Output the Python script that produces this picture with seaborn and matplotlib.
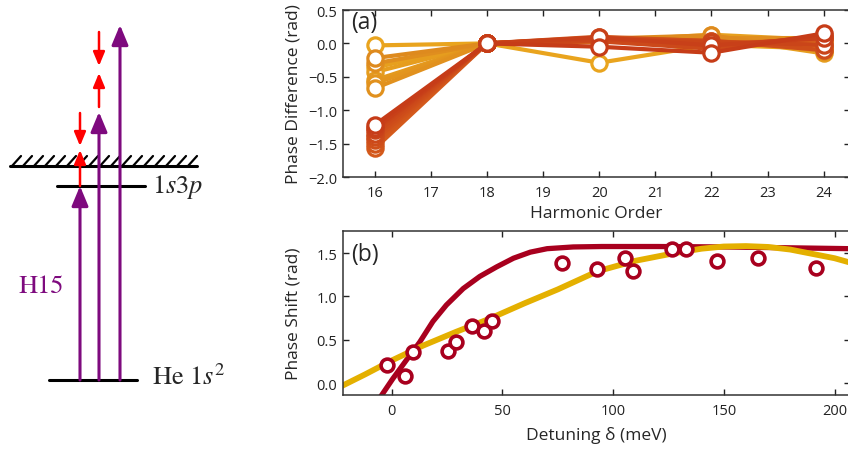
import numpy as np
import pandas as pd
import matplotlib
matplotlib.use("Agg")
import matplotlib.pyplot as plt
import seaborn as sns

# ---- data ----
harmonic_orders = [16, 18, 20, 22, 24]

# phase difference vs harmonic order, referenced to H18 (orange group)
phase_upper = [
    [-0.03, 0, -0.29, -0.02, -0.08],
    [-0.36, 0, 0.03, 0.13, 0.05],
    [-0.43, 0, 0.06, 0.10, -0.15],
    [-0.55, 0, 0.02, 0.05, -0.10],
    [-0.60, 0, 0.08, 0.03, 0.02],
    [-0.67, 0, 0.04, 0.00, -0.05],
    [-0.30, 0, 0.05, 0.08, 0.08],
    [-0.22, 0, 0.07, 0.12, -0.12],
]
# red group
phase_lower = [
    [-1.57, 0, 0.07, 0.00, 0.05],
    [-1.50, 0, 0.10, 0.03, -0.03],
    [-1.45, 0, 0.05, -0.05, 0.10],
    [-1.40, 0, 0.08, 0.04, -0.10],
    [-1.35, 0, 0.03, -0.08, 0.12],
    [-1.30, 0, 0.06, 0.02, -0.02],
    [-1.27, 0, 0.09, -0.03, 0.08],
    [-1.22, 0, -0.05, -0.14, 0.15],
]

# phase shift vs detuning
detuning_meas = [-2.3, 6.2, 9.8, 25.5, 29.2, 36.1, 41.7, 45.5, 77.0, 92.6,
                 105.5, 109.2, 126.6, 133.1, 147.1, 165.5, 191.6]
shift_meas = [0.21, 0.08, 0.36, 0.37, 0.47, 0.66, 0.60, 0.72, 1.38, 1.31,
              1.44, 1.29, 1.55, 1.55, 1.41, 1.44, 1.33]

model_red_x = [-6, -4.8, 0.5, 6.5, 12.6, 18.6, 24.7, 32.3, 39.8, 47.4, 55, 62.6,
               70.2, 82, 95, 120, 150, 180, 207]
model_red_y = [-0.19, -0.15, 0.05, 0.26, 0.47, 0.71, 0.90, 1.09, 1.23, 1.34, 1.44,
               1.51, 1.55, 1.57, 1.575, 1.575, 1.57, 1.56, 1.55]

model_yel_x = [-23, -12, 0, 14, 29, 44, 60, 75, 93, 110, 128, 140, 150, 160, 170,
               180, 190, 200, 207]
model_yel_y = [-0.04, 0.10, 0.26, 0.43, 0.59, 0.74, 0.92, 1.08, 1.29, 1.41, 1.50,
               1.55, 1.575, 1.58, 1.57, 1.54, 1.49, 1.44, 1.39]

# energy level sketch (diagram units, top = 0)
ground_y = 381
level_3p_y = 187
threshold_y = 167
harmonic_x = [80, 99, 120]
harmonic_top = [187, 113, 26]
ir_up = [(80, 187, 151), (99, 108, 74)]
ir_down = [(80, 114, 147), (99, 33, 67)]

# ---- style ----
sns.set_style("ticks")
plt.rcParams['font.family'] = ['Open Sans', 'DejaVu Sans']
plt.rcParams['mathtext.fontset'] = 'stix'

fig = plt.figure(figsize=(8.48, 4.52), dpi=100)

# ---- energy diagram ----
axd = fig.add_axes([0, 0, 270 / 848, 1])
axd.set_xlim(0, 270)
axd.set_ylim(452, 0)
axd.axis('off')

axd.plot([49, 137], [ground_y, ground_y], color='black', lw=2.2)
axd.plot([57, 145], [level_3p_y, level_3p_y], color='black', lw=2.2)
axd.plot([10, 197], [threshold_y, threshold_y], color='black', lw=2.2)
for hx in np.arange(12, 192, 11):
    axd.plot([hx, hx + 9], [threshold_y, threshold_y - 10], color='black', lw=1.6)

purple = '#7E0A7E'
for x, top in zip(harmonic_x, harmonic_top):
    axd.annotate('', xy=(x, top), xytext=(x, ground_y),
                 arrowprops=dict(arrowstyle='-|>,head_length=0.6,head_width=0.25',
                                 color=purple, lw=2.2, mutation_scale=20,
                                 shrinkA=0, shrinkB=0))
for x, y0, y1 in ir_up + ir_down:
    axd.annotate('', xy=(x, y1), xytext=(x, y0),
                 arrowprops=dict(arrowstyle='-|>,head_length=0.6,head_width=0.25',
                                 color='#FF0000', lw=1.8, mutation_scale=14,
                                 shrinkA=0, shrinkB=0))

axd.text(152, level_3p_y, r'$1s3p$', fontsize=19, va='center', ha='left')
axd.text(152, ground_y - 3, r'He $1s^2$', fontsize=19, va='center', ha='left',
         family='STIXGeneral')
axd.text(18, 287, 'H15', fontsize=19, va='center', ha='left', color=purple,
         family='STIXGeneral')

minus_fmt = matplotlib.ticker.FuncFormatter(
    lambda v, p: f'{v:.1f}'.replace('-', '\u2212'))

# ---- panel (a) ----
axa = fig.add_axes([343 / 848, 1 - 178 / 452, (850 - 343) / 848, 167 / 452])
rows = []
for i, vals in enumerate(phase_upper + phase_lower):
    for h, v in zip(harmonic_orders, vals):
        rows.append({'series': i, 'order': h, 'phase': v})
df_a = pd.DataFrame(rows)
pal = (sns.blend_palette(['#E9A41E', '#DE8A1E'], len(phase_upper))
       + sns.blend_palette(['#D45A1C', '#C63C18'], len(phase_lower)))
sns.lineplot(data=df_a, x='order', y='phase', hue='series', palette=pal,
             marker='o', markersize=11, markerfacecolor='white', mew=2.3,
             lw=3.0, legend=False, ax=axa)
for ln in axa.lines:
    ln.set_markeredgecolor(ln.get_color())

axa.set_xlim(15.43, 24.47)
axa.set_ylim(-2.0, 0.5)
axa.set_xticks(range(16, 25))
axa.set_yticks(np.arange(-2.0, 0.51, 0.5))
axa.yaxis.set_major_formatter(minus_fmt)
axa.set_xlabel('Harmonic Order', fontsize=12.5)
axa.set_ylabel('Phase Difference (rad)', fontsize=12.5)
axa.xaxis.set_label_coords(0.5, -0.17)
axa.yaxis.set_label_coords(-0.081, 0.5)
axa.text(0.016, 0.93, '(a)', transform=axa.transAxes, fontsize=16.5, va='center')

# ---- panel (b) ----
axb = fig.add_axes([343 / 848, 1 - 396 / 452, (850 - 343) / 848, 164 / 452])
sns.lineplot(x=model_red_x, y=model_red_y, color='#A8001E', lw=3.8, ax=axb)
sns.lineplot(x=model_yel_x, y=model_yel_y, color='#E4B000', lw=4.2, ax=axb)
sns.scatterplot(x=detuning_meas, y=shift_meas, s=85, facecolor='white',
                edgecolor='#A8001E', linewidth=2.6, zorder=5, ax=axb)
axb.set_xlim(-22, 207)
axb.set_ylim(-0.138, 1.754)
axb.set_xticks([0, 50, 100, 150, 200])
axb.set_yticks([0.0, 0.5, 1.0, 1.5])
axb.yaxis.set_major_formatter(minus_fmt)
axb.set_xlabel('Detuning δ (meV)', fontsize=12.5)
axb.set_ylabel('Phase Shift (rad)', fontsize=12.5)
axb.xaxis.set_label_coords(0.5, -0.19)
axb.yaxis.set_label_coords(-0.081, 0.5)
axb.text(0.016, 0.86, '(b)', transform=axb.transAxes, fontsize=16.5, va='center')

for ax in (axa, axb):
    ax.tick_params(direction='in', top=True, right=True, length=4, width=1,
                   labelsize=10.5, colors='#222222', pad=4)
    ax.tick_params(axis='x', pad=6)
    for sp in ax.spines.values():
        sp.set_linewidth(1.1)
        sp.set_color('#333333')

fig.savefig('out.png', dpi=100)
